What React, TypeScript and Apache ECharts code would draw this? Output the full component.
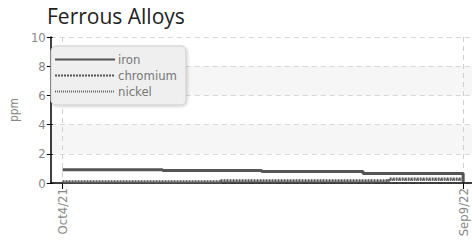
import React, { useEffect, useRef } from "react";
import * as echarts from "echarts";

const title = "Ferrous Alloys";
const yName = "ppm";
const firstDate = "2021-10-04";
const lastDate = "2022-09-09";
const ironDates = ["2021-10-04", "2021-12-28", "2022-03-22", "2022-06-16", "2022-09-08", "2022-09-09"];
const ironValues = [0.9, 0.85, 0.78, 0.65, 0.65, 0.05];
const chromiumDates = ["2021-10-04", "2022-02-15", "2022-07-08", "2022-09-09"];
const chromiumValues = [0.08, 0.15, 0.28, 0.28];
const nickelDates = ["2021-10-04", "2022-02-15", "2022-07-08", "2022-09-09"];
const nickelValues = [0.03, 0.1, 0.2, 0.2];
const yTicks = [0, 2, 4, 6, 8, 10];

const MONTHS = ["Jan", "Feb", "Mar", "Apr", "May", "Jun", "Jul", "Aug", "Sep", "Oct", "Nov", "Dec"];
const ts = (s: string) => {
  const [y, m, d] = s.split("-").map(Number);
  return Date.UTC(y, m - 1, d);
};
const fmt = (v: number) => {
  const d = new Date(v);
  return `${MONTHS[d.getUTCMonth()]}${d.getUTCDate()}/${String(d.getUTCFullYear()).slice(2)}`;
};
const pairs = (dates: string[], vals: number[]) => dates.map((d, i) => [ts(d), vals[i]]);

const narrow = "'Liberation Sans Narrow', 'DejaVu Sans Condensed', 'Roboto', sans-serif";
const DAY = 86400000;

export default function App() {
  const ref = useRef<HTMLDivElement>(null);
  useEffect(() => {
    if (!ref.current) return;
    const chart = echarts.init(ref.current, undefined, { renderer: "svg" });
    const t0 = ts(firstDate);
    const t1 = ts(lastDate);
    chart.setOption({
      animation: false,
      title: {
        text: title,
        left: 42,
        top: 0,
        textStyle: { fontFamily: "'Open Sans', sans-serif", fontSize: 21, fontWeight: "normal", color: "#222" },
      },
      legend: {
        left: 51,
        top: 46,
        orient: "vertical",
        itemWidth: 60,
        itemHeight: 14,
        itemGap: 3,
        padding: [7, 9, 7, 3],
        backgroundColor: "#efefef",
        borderColor: "#cfcfcf",
        borderWidth: 1,
        borderRadius: 5,
        shadowColor: "rgba(0,0,0,0.2)",
        shadowBlur: 3,
        shadowOffsetX: 1,
        shadowOffsetY: 1,
        itemStyle: { opacity: 0 },
        textStyle: { fontFamily: narrow, fontSize: 13, color: "#777", padding: [0, 0, 0, -2] },
        data: ["iron", "chromium", "nickel"],
      },
      grid: { left: 42, right: 0, top: 37, bottom: 57 },
      xAxis: {
        type: "value",
        min: t0 - 10 * DAY,
        max: t1 + 7.5 * DAY,
        axisLine: { lineStyle: { color: "#000", width: 1.5 } },
        axisTick: { customValues: [t0, t1], length: 6, lineStyle: { color: "#000" } },
        axisLabel: {
          customValues: [t0, t1],
          rotate: 90,
          margin: 5,
          formatter: (v: number) => fmt(v),
          fontFamily: narrow,
          fontSize: 13,
          color: "#888",
        },
        splitLine: { show: true, lineStyle: { color: "#d0d0d0", type: [5, 4] } },
      },
      yAxis: [
        {
          type: "value",
          min: yTicks[0],
          max: yTicks[yTicks.length - 1],
          interval: 2,
          name: yName,
          nameLocation: "middle",
          nameGap: 21,
          nameTextStyle: { fontFamily: narrow, fontSize: 12, color: "#888" },
          axisLine: { show: true, lineStyle: { color: "#000", width: 1.5 } },
          axisTick: { show: true, length: 4, lineStyle: { color: "#000" } },
          axisLabel: { margin: 5, fontFamily: narrow, fontSize: 13, color: "#888" },
          splitLine: { show: true, lineStyle: { color: "#d8d8d8", type: [5, 4] } },
          splitArea: { show: true, areaStyle: { color: ["rgba(255,255,255,0)", "#f6f6f6"] } },
        },
        {
          type: "value",
          min: yTicks[0],
          max: yTicks[yTicks.length - 1],
          interval: 2,
          position: "left",
          axisLine: { show: false },
          axisTick: { show: true, inside: true, length: 2, lineStyle: { color: "#000" } },
          axisLabel: { show: false },
          splitLine: { show: false },
        },
      ],
      series: [
        {
          name: "iron",
          type: "line",
          step: "end",
          symbol: "none",
          data: pairs(ironDates, ironValues),
          itemStyle: { color: "#555" },
          lineStyle: { color: "#555", width: 3 },
        },
        {
          name: "chromium",
          type: "line",
          step: "end",
          symbol: "none",
          data: pairs(chromiumDates, chromiumValues),
          itemStyle: { color: "#555" },
          lineStyle: { color: "#555", width: 3, type: [2, 1] },
        },
        {
          name: "nickel",
          type: "line",
          step: "end",
          symbol: "none",
          data: pairs(nickelDates, nickelValues),
          itemStyle: { color: "#666" },
          lineStyle: { color: "#666", width: 2, type: [1, 1] },
        },
      ],
    });
    return () => chart.dispose();
  }, []);
  return <div ref={ref} style={{ width: 472, height: 240, position: "absolute", left: 0, top: 0 }} />;
}
